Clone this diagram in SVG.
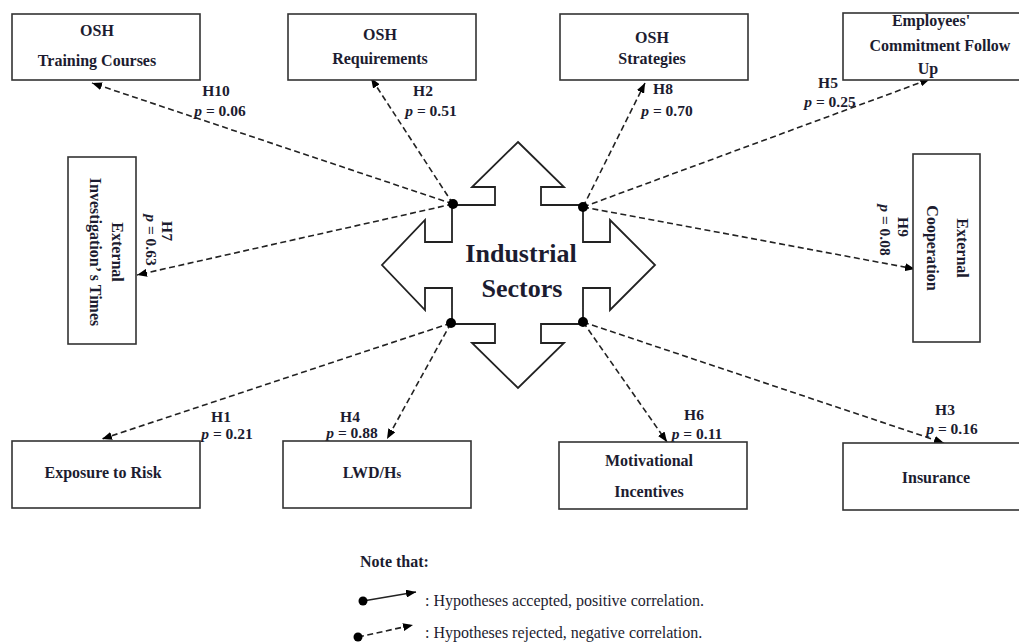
<svg xmlns="http://www.w3.org/2000/svg" width="1019" height="644" viewBox="0 0 1019 644">
  <style>
    .box { fill: #ffffff; stroke: #333333; stroke-width: 1.6; }
    .t { font-family: "Liberation Serif", "Times New Roman", serif; font-weight: bold; font-size: 16px; fill: #1c1c30; text-anchor: middle; }
    .lbl { font-family: "Liberation Serif", "Times New Roman", serif; font-weight: bold; font-size: 15.5px; fill: #1c1c30; text-anchor: middle; }
    .p { font-style: italic; }
    .big { font-family: "Liberation Serif", "Times New Roman", serif; font-weight: bold; font-size: 26px; fill: #1c1c30; text-anchor: middle; }
    .note { font-family: "Liberation Serif", "Times New Roman", serif; font-size: 16px; fill: #1c1c30; }
    .dash { fill: none; stroke: #222222; stroke-width: 1.6; stroke-dasharray: 6 3.5; marker-end: url(#arrow); }
    .solid { fill: none; stroke: #222222; stroke-width: 1.6; marker-end: url(#arrow); }
    .dot { fill: #000000; }
  </style>
  <defs>
    <marker id="arrow" viewBox="0 0 10 8" refX="10" refY="4" markerWidth="10" markerHeight="8" markerUnits="userSpaceOnUse" orient="auto">
      <path d="M0,0 L10,4 L0,8 Z" fill="#000000"/>
    </marker>
  </defs>
  <rect width="1019" height="644" fill="#ffffff"/>

  <!-- central four-way arrow -->
  <g id="industrial-sectors">
    <polygon points="518,142 564,187 541,187 541,205 583,205 583,242 610,242 610,220 655,265 610,310 610,288 583,288 583,324 541,324 541,343 564,343 518,388 472,343 495,343 495,324 452,324 452,288 425,288 425,310 382,265 425,220 425,242 452,242 452,205 495,205 495,187 472,187" fill="#ffffff" stroke="#222222" stroke-width="1.8" stroke-linejoin="miter"/>
    <text class="big" x="521" y="262">Industrial</text>
    <text class="big" x="522" y="297">Sectors</text>
  </g>

  <!-- hypothesis connectors -->
  <g id="connectors">
    <line class="dash" x1="453" y1="204" x2="92" y2="83"/>
    <line class="dash" x1="453" y1="204" x2="371" y2="78"/>
    <line class="dash" x1="583" y1="207" x2="645" y2="83"/>
    <line class="dash" x1="583" y1="207" x2="930" y2="79"/>
    <line class="dash" x1="453" y1="204" x2="137" y2="275"/>
    <line class="dash" x1="583" y1="207" x2="915" y2="269"/>
    <line class="dash" x1="451" y1="323" x2="102" y2="439"/>
    <line class="dash" x1="451" y1="323" x2="387" y2="439"/>
    <line class="dash" x1="583" y1="322" x2="667" y2="442"/>
    <line class="dash" x1="583" y1="322" x2="944" y2="443"/>
    <circle class="dot" cx="453" cy="204" r="5"/>
    <circle class="dot" cx="583" cy="207" r="5"/>
    <circle class="dot" cx="451" cy="323" r="5"/>
    <circle class="dot" cx="583" cy="322" r="5"/>
  </g>

  <!-- hypothesis labels -->
  <g id="labels">
    <text class="lbl" x="216" y="96">H10</text>
    <text class="lbl" x="220" y="116"><tspan class="p">p</tspan> = 0.06</text>
    <text class="lbl" x="423" y="96">H2</text>
    <text class="lbl" x="431" y="116"><tspan class="p">p</tspan> = 0.51</text>
    <text class="lbl" x="663" y="94">H8</text>
    <text class="lbl" x="667" y="116"><tspan class="p">p</tspan> = 0.70</text>
    <text class="lbl" x="828" y="88">H5</text>
    <text class="lbl" x="830" y="107"><tspan class="p">p</tspan> = 0.25</text>
    <g transform="translate(155,240) rotate(90)">
      <text class="lbl" x="-9" y="-7">H7</text>
      <text class="lbl" x="0" y="9"><tspan class="p">p</tspan> = 0.63</text>
    </g>
    <g transform="translate(890,230) rotate(90)">
      <text class="lbl" x="-3" y="-8">H9</text>
      <text class="lbl" x="0" y="10"><tspan class="p">p</tspan> = 0.08</text>
    </g>
    <text class="lbl" x="221" y="422">H1</text>
    <text class="lbl" x="227" y="439"><tspan class="p">p</tspan> = 0.21</text>
    <text class="lbl" x="350" y="422">H4</text>
    <text class="lbl" x="352" y="438"><tspan class="p">p</tspan> = 0.88</text>
    <text class="lbl" x="694" y="420">H6</text>
    <text class="lbl" x="697" y="439"><tspan class="p">p</tspan> = 0.11</text>
    <text class="lbl" x="945" y="415">H3</text>
    <text class="lbl" x="952" y="434"><tspan class="p">p</tspan> = 0.16</text>
  </g>

  <!-- outcome nodes -->
  <g id="osh-training">
    <rect class="box" x="12" y="14" width="188" height="66"/>
    <text class="t" x="97" y="36">OSH</text>
    <text class="t" x="97" y="66">Training Courses</text>
  </g>
  <g id="osh-requirements">
    <rect class="box" x="288" y="14" width="188" height="66"/>
    <text class="t" x="380" y="40">OSH</text>
    <text class="t" x="380" y="64">Requirements</text>
  </g>
  <g id="osh-strategies">
    <rect class="box" x="560" y="14" width="188" height="66"/>
    <text class="t" x="652" y="43">OSH</text>
    <text class="t" x="652" y="64">Strategies</text>
  </g>
  <g id="employees-commitment">
    <rect class="box" x="843" y="13" width="190" height="67"/>
    <text class="t" x="931" y="26">Employees'</text>
    <text class="t" x="940" y="51">Commitment Follow</text>
    <text class="t" x="928" y="74">Up</text>
  </g>
  <g id="external-investigation">
    <rect class="box" x="68" y="157" width="68" height="187"/>
    <g transform="translate(102,252) rotate(90)">
      <text class="t" x="0" y="-10">External</text>
      <text class="t" x="0" y="12">Investigation’  s Times</text>
    </g>
  </g>
  <g id="external-cooperation">
    <rect class="box" x="913" y="154" width="67" height="188"/>
    <g transform="translate(946,248) rotate(90)">
      <text class="t" x="0" y="-11">External</text>
      <text class="t" x="0" y="19">Cooperation</text>
    </g>
  </g>
  <g id="exposure-to-risk">
    <rect class="box" x="12" y="441" width="188" height="67"/>
    <text class="t" x="103" y="478">Exposure to Risk</text>
  </g>
  <g id="lwd-hs">
    <rect class="box" x="283" y="441" width="188" height="67"/>
    <text class="t" x="372" y="478">LWD/H<tspan font-size="12">s</tspan></text>
  </g>
  <g id="motivational-incentives">
    <rect class="box" x="559" y="442" width="188" height="67"/>
    <text class="t" x="649" y="466">Motivational</text>
    <text class="t" x="649" y="497">Incentives</text>
  </g>
  <g id="insurance">
    <rect class="box" x="843" y="443" width="190" height="67"/>
    <text class="t" x="936" y="483">Insurance</text>
  </g>

  <!-- legend -->
  <g id="legend">
    <text class="note" x="360" y="567" font-weight="bold">Note that:</text>
    <line class="solid" x1="363" y1="601" x2="416" y2="592"/>
    <circle class="dot" cx="363" cy="601" r="4.5"/>
    <text class="note" x="425" y="606">: Hypotheses accepted, positive correlation.</text>
    <line class="dash" x1="358" y1="637" x2="413" y2="625"/>
    <circle class="dot" cx="358" cy="637" r="4.5"/>
    <text class="note" x="425" y="638">: Hypotheses rejected, negative correlation.</text>
  </g>
</svg>
